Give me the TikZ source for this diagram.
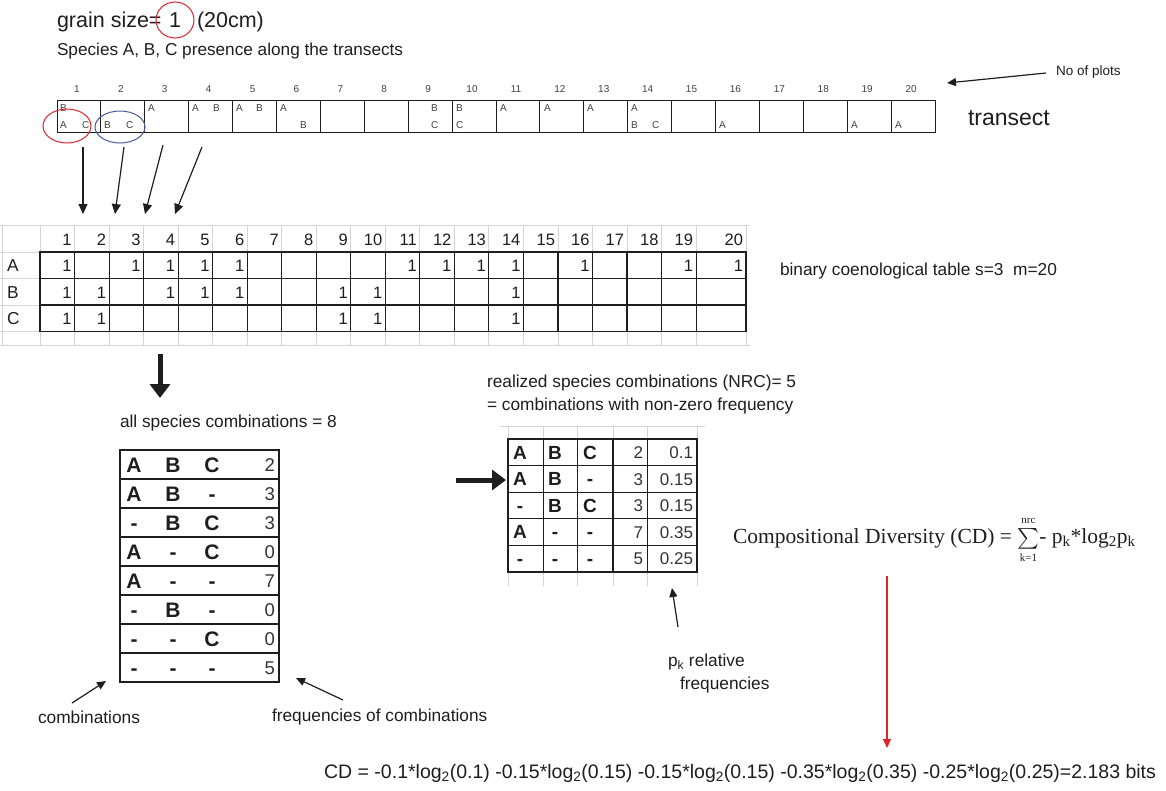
\documentclass[tikz,border=0pt]{standalone}
\usepackage{fontspec}
\usepackage{amsmath}
\setmainfont{Liberation Sans}
\newfontfamily\timesfont{Liberation Serif}
\usetikzlibrary{shapes.geometric,arrows.meta}
\definecolor{ink}{HTML}{1E1E1E}
\definecolor{gridgray}{HTML}{D4D4D4}
\definecolor{circblue}{HTML}{4A5A9E}
\definecolor{circred}{HTML}{E0242C}
\begin{document}
\begin{tikzpicture}[x=1pt,y=-1pt,
  every node/.style={inner sep=0pt, outer sep=0pt, text=ink},
  label16/.style={font=\fontsize{17.3}{20}\selectfont, anchor=west},
  tiny/.style={font=\fontsize{10}{12}\selectfont, text=black!75},
  plot/.style={draw=ink, line width=1pt, minimum width=43.9pt, minimum height=31.5pt},
  tabnum/.style={font=\fontsize{16.5}{19}\selectfont, anchor=east, text height=12pt, text depth=0pt},
  bigletter/.style={font=\fontsize{21}{24}\selectfont\bfseries, text height=15pt, text depth=0pt},
  bignum/.style={font=\fontsize{18.5}{22}\selectfont, anchor=east, text=black!80, text height=13.5pt, text depth=0pt},
  midletter/.style={font=\fontsize{19}{22}\selectfont\bfseries, text height=13.5pt, text depth=0pt},
  midnum/.style={font=\fontsize{17}{20}\selectfont, anchor=east, text=black!80, text height=12.3pt, text depth=0pt},
  thin/.style={-{Triangle[length=10pt,width=9pt]}, line width=1.2pt, draw=ink},
  fat/.style={-{Triangle[length=14pt,width=20pt]}, line width=5pt, draw=ink},
  pointer/.style={-{Triangle[length=9pt,width=8pt]}, line width=1.2pt, draw=ink},
  faint/.style={draw=gridgray, line width=0.8pt}
]
\useasboundingbox (0,0) rectangle (1166,790);

% ---------- heading ----------
\node[font=\fontsize{21.5}{25}\selectfont, anchor=west] (gs) at (57,22) {grain size=};
\node[draw=circred, line width=1pt, ellipse, minimum width=38pt, minimum height=36pt,
      font=\fontsize{21.5}{25}\selectfont] (one) at (175,20) {1};
\node[font=\fontsize{21.5}{25}\selectfont, anchor=west] (cm) at (197,22) {(20cm)};
\node[font=\fontsize{17.2}{20}\selectfont, anchor=west] (species) at (57,51)
  {Species A, B, C presence along the transects};

% ---------- transect of 20 plots ----------
\foreach \i in {1,...,20} {
  \node[plot] (t\i) at ({57+43.9*(\i-0.5)},116.25) {};
  \node[tiny] (n\i) at ({57+43.9*(\i-0.5)-2},89) {\i};
}
\foreach \x/\y/\l in {
  60/108/B, 60/125/A, 82/125/C,
  104/125/B, 126/125/C,
  148/108/A,
  192/108/A, 213/108/B,
  236/108/A, 256/108/B,
  280/108/A, 300/125/B,
  431/108/B, 431/125/C,
  456/108/B, 456/125/C,
  500/108/A, 544/108/A, 587/108/A,
  631/108/A, 631/125/B, 652/125/C,
  719/125/A, 851/125/A, 895/125/A}
  \node[tiny, anchor=west] at (\x,\y) {\l};

\draw[circred, line width=1pt] (67,126) ellipse [x radius=24, y radius=17];
\draw[circblue, line width=1pt] (120,127) ellipse [x radius=25, y radius=16];

\node[font=\fontsize{23}{27}\selectfont, anchor=west] (transect) at (968,118) {transect};
\node[font=\fontsize{13.5}{16}\selectfont, anchor=west] (noplots) at (1056,72) {No of plots};
\coordinate (plotsTail) at (1046,73);
\coordinate (plotsTip) at (947,83);
\draw[pointer] (plotsTail) -- (plotsTip);

% arrows from the plots down to the table columns
\coordinate (a1s) at (83,147);  \coordinate (a1e) at (83,214);
\coordinate (a2s) at (124,147); \coordinate (a2e) at (115,214);
\coordinate (a3s) at (163,145); \coordinate (a3e) at (145,214);
\coordinate (a4s) at (202,147); \coordinate (a4e) at (175,214);
\draw[thin] (a1s) -- (a1e);
\draw[thin] (a2s) -- (a2e);
\draw[thin] (a3s) -- (a3e);
\draw[thin] (a4s) -- (a4e);

% ---------- binary coenological table ----------
\def\cw{34.53}
% light spreadsheet grid
\draw[faint] (0,225) -- (750,225);
\draw[faint] (0,345) -- (750,345);
\foreach \yy in {252,278.5,305,331.5} \draw[faint] (0,\yy) -- (40,\yy);
\draw[faint] (2,225) -- (2,345);
\foreach \i in {0,...,19} \draw[faint] ({40+\cw*\i},225) -- ({40+\cw*\i},345);
\draw[faint] (746,225) -- (746,345);
% black cell borders
\foreach \yy in {278.5,305} \draw[ink, line width=1.1pt] (40,\yy) -- (746,\yy);
\foreach \i in {1,...,19} \draw[ink, line width=1.1pt] ({40+\cw*\i},252) -- ({40+\cw*\i},331.5);
\node[draw=ink, line width=1.2pt, minimum width=706pt, minimum height=79.5pt] (bintab) at (393,291.75) {};
% header and entries
\foreach \c in {1,...,20}
  \node[tabnum] at ({(\c==20 ? 746 : 40+\cw*\c)-3},239) {\c};
\foreach \c in {1,3,4,5,6,11,12,13,14,16,19,20}
  \node[tabnum] at ({(\c==20 ? 746 : 40+\cw*\c)-3},265.5) {1};
\foreach \c in {1,2,4,5,6,9,10,14}
  \node[tabnum] at ({(\c==20 ? 746 : 40+\cw*\c)-3},292) {1};
\foreach \c in {1,2,9,10,14}
  \node[tabnum] at ({(\c==20 ? 746 : 40+\cw*\c)-3},318.5) {1};
\node[label16, text height=12pt, text depth=0pt] (rowA) at (7,265.5) {A};
\node[label16, text height=12pt, text depth=0pt] (rowB) at (7,292) {B};
\node[label16, text height=12pt, text depth=0pt] (rowC) at (7,318.5) {C};
\node[label16] (bintitle) at (780,271) {binary coenological table s=3\ \ m=20};

% ---------- all combinations ----------
\coordinate (downS) at (160,354);
\coordinate (downE) at (160,398);
\draw[fat] (downS) -- (downE);
\node[label16] (allcomb) at (120,423) {all species combinations = 8};

\node[draw=ink, line width=1.5pt, minimum width=159pt, minimum height=232pt] (combtab) at (199.5,566) {};
\foreach \r in {1,...,7} \draw[ink, line width=1.1pt] (120,{450+29*\r}) -- (279,{450+29*\r});
\foreach \r/\a/\b/\c/\n in {1/A/B/C/2, 2/A/B/-/3, 3/-/B/C/3, 4/A/-/C/0,
                            5/A/-/-/7, 6/-/B/-/0, 7/-/-/C/0, 8/-/-/-/5} {
  \node[bigletter] at (134,{450+29*\r-14.5}) {\a};
  \node[bigletter] at (173,{450+29*\r-14.5}) {\b};
  \node[bigletter] at (212,{450+29*\r-14.5}) {\c};
  \node[bignum] at (275,{450+29*\r-14.5}) {\n};
}

\node[label16] (combs) at (38,717) {combinations};
\coordinate (combsTail) at (72,703);
\coordinate (combsTip) at (106,681);
\draw[pointer] (combsTail) -- (combsTip);
\node[label16] (freqs) at (272,717) {frequencies of combinations};
\coordinate (freqsTail) at (343,700);
\coordinate (freqsTip) at (296,678);
\draw[pointer] (freqsTail) -- (freqsTip);

% ---------- realized combinations ----------
\coordinate (rightS) at (456,480);
\coordinate (rightE) at (506,480);
\draw[fat] (rightS) -- (rightE);
\node[label16] (nrc1) at (487,383) {realized species combinations (NRC)= 5};
\node[label16] (nrc2) at (487,406) {= combinations with non-zero frequency};

\foreach \xx in {508,543,577,613,647,697} {
  \draw[faint] (\xx,426) -- (\xx,439);
  \draw[faint] (\xx,572) -- (\xx,586);
}
\draw[faint] (500,426) -- (705,426);
\node[draw=ink, line width=1.3pt, minimum width=189pt, minimum height=133pt] (realtab) at (602.5,505.5) {};
\foreach \xx in {543,577,647} \draw[ink, line width=1pt] (\xx,439) -- (\xx,572);
\draw[ink, line width=1.6pt] (613,439) -- (613,572);
\foreach \r in {1,...,4} \draw[ink, line width=1.1pt] (508,{439+26.6*\r}) -- (697,{439+26.6*\r});
\foreach \r/\a/\b/\c/\n/\f in {1/A/B/C/2/0.1, 2/A/B/-/3/0.15, 3/-/B/C/3/0.15,
                               4/A/-/-/7/0.35, 5/-/-/-/5/0.25} {
  \node[midletter] at (520,{439+26.6*\r-13.3}) {\a};
  \node[midletter] at (555,{439+26.6*\r-13.3}) {\b};
  \node[midletter] at (590,{439+26.6*\r-13.3}) {\c};
  \node[midnum] at (643,{439+26.6*\r-13.3}) {\n};
  \node[midnum] at (693,{439+26.6*\r-13.3}) {\f};
}

\node[label16] (pk1) at (668,662) {p\textsubscript{k} relative};
\node[label16] (pk2) at (680,685) {frequencies};
\coordinate (pkTail) at (678,627);
\coordinate (pkTip) at (672,588);
\draw[pointer] (pkTail) -- (pkTip);

% ---------- compositional diversity ----------
\node[anchor=west, font=\timesfont\fontsize{21.5}{25}\selectfont] (cdform) at (733,540)
  {Compositional Diversity (CD) = $\sum\limits_{\text{\fontsize{11}{12}\selectfont k=1}}^{\text{\fontsize{11}{12}\selectfont nrc}}$- p\textsubscript{k}*log\textsubscript{2}p\textsubscript{k}};
\coordinate (redS) at (887,576);
\coordinate (redE) at (887,748);
\draw[circred, line width=1.1pt, -{Triangle[length=9pt,width=8pt]}] (redS) -- (redE);

\node[font=\fontsize{19.5}{23}\selectfont] (cdcalc) at (740,773)
  {CD = -0.1*log\textsubscript{2}(0.1) -0.15*log\textsubscript{2}(0.15) -0.15*log\textsubscript{2}(0.15) -0.35*log\textsubscript{2}(0.35) -0.25*log\textsubscript{2}(0.25)=2.183 bits};
\end{tikzpicture}
\end{document}
